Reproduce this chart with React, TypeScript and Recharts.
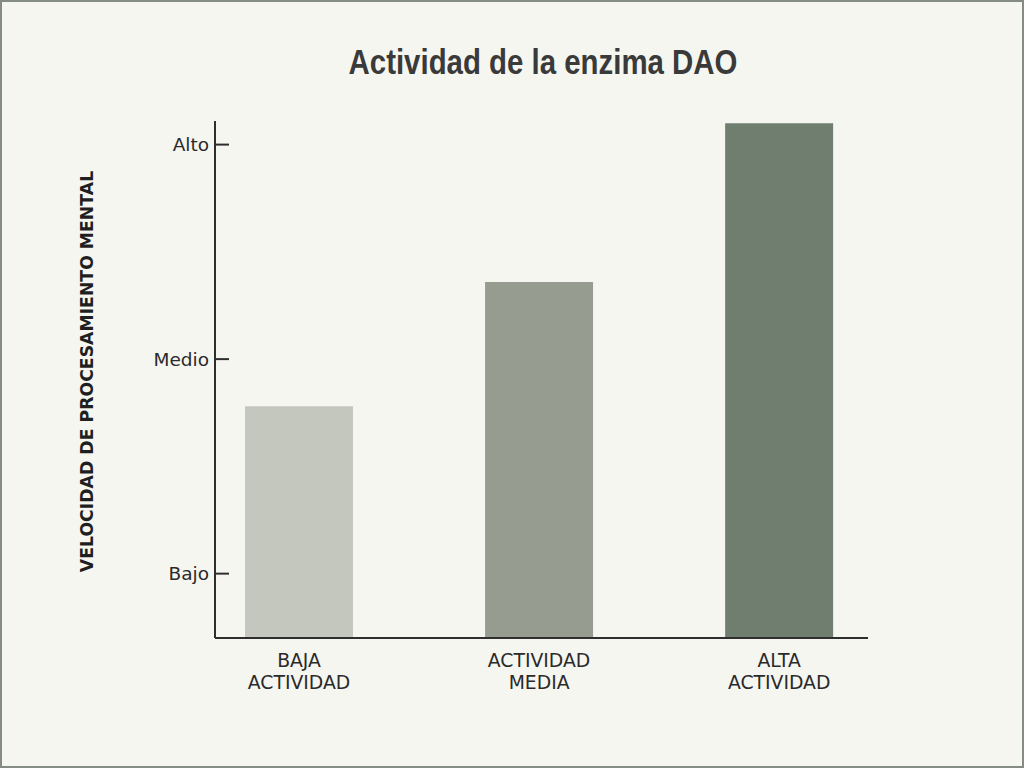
import React from 'react';
import { BarChart, Bar, XAxis, YAxis, Cell } from 'recharts';

const categories = ['BAJA ACTIVIDAD', 'ACTIVIDAD MEDIA', 'ALTA ACTIVIDAD'];
const positions = [0, 1, 2];
const velocity = [1.78, 2.36, 3.1];
const barColors = ['#c3c7be', '#969c90', '#6f7e6f'];
const levelTicks = [1, 2, 3];
const levelLabels = ['Bajo', 'Medio', 'Alto'];

const data = categories.map((name, i) => ({ name, pos: positions[i], value: velocity[i] }));

const axisColor = '#2e2e2e';
const labelFont = '"DejaVu Sans", sans-serif';

const XTick = (props: any) => {
  const { x, y, payload } = props;
  const idx = positions.indexOf(payload.value);
  const words = idx >= 0 ? categories[idx].split(' ') : [];
  return (
    <g>
      {words.map((w, i) => (
        <text key={i} x={x} y={y + 29 + i * 22} textAnchor="middle" fontFamily={labelFont} fontSize={18.8} fill="#2a2a2a">
          {w}
        </text>
      ))}
    </g>
  );
};

const YTick = (props: any) => {
  const { x, y, payload } = props;
  const idx = levelTicks.indexOf(payload.value);
  return (
    <g>
      <line x1={x} x2={x + 14} y1={y} y2={y} stroke={axisColor} strokeWidth={2} />
      <text x={x - 6} y={y} dy={6.5} textAnchor="end" fontFamily={labelFont} fontSize={18.5} fill="#2a2a2a">
        {idx >= 0 ? levelLabels[idx] : ''}
      </text>
    </g>
  );
};

const YTitle = (props: any) => {
  const { viewBox } = props;
  const cx = viewBox.x - 68;
  const cy = viewBox.y + viewBox.height / 2 - 8;
  return (
    <text
      x={cx}
      y={cy}
      transform={`rotate(-90, ${cx}, ${cy})`}
      textAnchor="middle"
      dominantBaseline="central"
      fontFamily={labelFont}
      fontWeight="bold"
      fontSize={17.3}
      fill="#1f1f1f"
    >
      VELOCIDAD DE PROCESAMIENTO MENTAL
    </text>
  );
};

export default function App() {
  return (
    <div
      style={{
        position: 'absolute',
        left: 0,
        top: 0,
        width: 1024,
        height: 768,
        boxSizing: 'border-box',
        border: '2px solid #858b85',
        background: '#f6f6f1',
        overflow: 'hidden',
      }}
    >
      <div
        style={{
          position: 'absolute',
          left: 0,
          top: 40,
          width: 1082,
          textAlign: 'center',
          fontFamily: '"Liberation Sans", Arial, sans-serif',
          fontWeight: 'bold',
          fontSize: 35,
          lineHeight: '40px',
          color: '#3a3a3a',
          transform: 'scaleX(0.84)',
          transformOrigin: '541px 0',
        }}
      >
        Actividad de la enzima DAO
      </div>
      <div style={{ position: 'absolute', left: -2, top: -2 }}>
        <BarChart width={1024} height={768} data={data} margin={{ top: 121, right: 156, bottom: 70, left: 155 }}>
          <XAxis
            dataKey="pos"
            type="number"
            domain={[-0.35, 2.37]}
            ticks={positions}
            interval={0}
            height={60}
            tickLine={false}
            tickSize={0}
            tickMargin={0}
            axisLine={{ stroke: axisColor, strokeWidth: 2 }}
            tick={<XTick />}
          />
          <YAxis
            type="number"
            domain={[0.7, 3.11]}
            ticks={levelTicks}
            width={60}
            tickLine={false}
            tickSize={0}
            tickMargin={0}
            axisLine={{ stroke: axisColor, strokeWidth: 2 }}
            tick={<YTick />}
            label={<YTitle />}
          />
          <Bar dataKey="value" barSize={108} isAnimationActive={false}>
            {data.map((d, i) => (
              <Cell key={d.name} fill={barColors[i]} />
            ))}
          </Bar>
        </BarChart>
      </div>
    </div>
  );
}
